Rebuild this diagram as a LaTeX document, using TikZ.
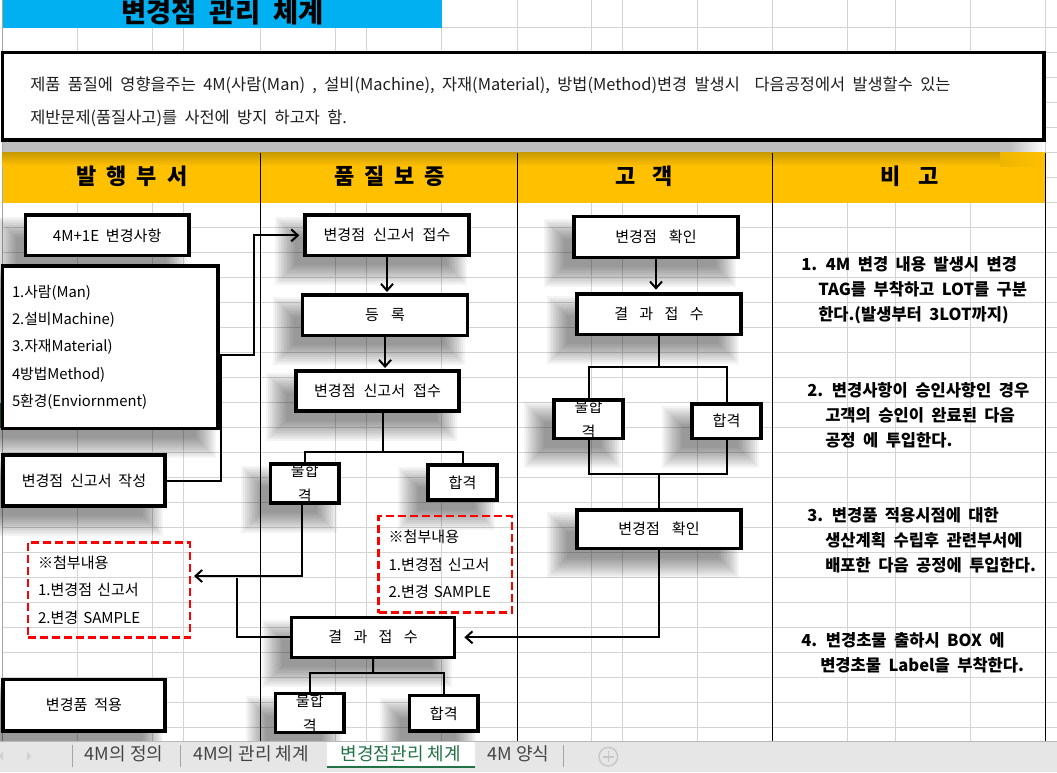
\documentclass[tikz,border=0pt]{standalone}
\usepackage{fontspec}
\setmainfont{Noto Sans CJK KR}
\usetikzlibrary{arrows.meta}
\pgfdeclarelayer{gridl}
\pgfdeclarelayer{shadl}
\pgfsetlayers{gridl,shadl,main}
\definecolor{titlecyan}{HTML}{00B0F0}
\definecolor{hdrgold}{HTML}{FFC000}
\definecolor{hdrdark}{HTML}{C99A00}
\definecolor{gridgray}{HTML}{D4D4D4}
\definecolor{tabgray}{HTML}{E6E6E6}
\definecolor{xlgreen}{HTML}{217346}
\definecolor{tabtext}{HTML}{444444}
\definecolor{dashred}{HTML}{FF0000}
\newcommand\szBox{\fontsize{11.3}{14}\selectfont\spaceskip=0.45em\relax}
\newcommand\szWrap{\fontsize{11.3}{18.75}\selectfont}
\newcommand\szRed{\fontsize{11.3}{20.6}\selectfont\spaceskip=0.45em\relax}
\newcommand\szNote{\bfseries\fontsize{12.4}{18.75}\selectfont\spaceskip=0.45em\relax}
\newcommand\szDesc{\fontsize{12.3}{25}\selectfont\spaceskip=0.45em\relax}
\newcommand\shadowof[1]{%
  \foreach \s in {-8,-6,...,12}{%
    \fill[black, opacity=0.045] ([shift={(-16-\s,16-\s)}]#1.north west) rectangle ([shift={(-16+\s,16+\s)}]#1.south east);}}
\begin{document}
\begin{tikzpicture}[x=0.75pt,y=-0.75pt,
  corners/.style n args={4}{minimum width={((#3)-(#1))*0.75pt}, minimum height={((#4)-(#2))*0.75pt},
     at={({((#1)+(#3))/2},{((#2)+(#4))/2})}},
  gridln/.style={draw=gridgray, line width=0.75pt},
  colln/.style={draw=black, line width=0.75pt},
  bxs/.style={draw=black, line width=2.5pt, fill=white, inner sep=0pt, align=center, font=\szBox},
  redbx/.style={draw=dashred, line width=2pt, dash pattern=on 6pt off 3pt, inner sep=0pt,
     align=left, font=\szRed},
  cn/.style={draw=black, line width=1.5pt},
  ar/.style={cn, -{Straight Barb[length=5pt,width=9pt]}},
  hdr/.style={font=\bfseries\fontsize{16.5}{18}\selectfont, inner sep=0pt},
  notes/.style={anchor=west, align=left, inner sep=0pt, font=\szNote},
  tabtx/.style={font=\fontsize{13.5}{15}\selectfont, text=tabtext, inner sep=0pt}
]
\useasboundingbox (0,0) rectangle (1057,772);
\begin{pgfonlayer}{gridl}
\fill[white] (0,0) rectangle (1057,772);
\foreach \gx in {77.8,152.8,183.6,260.6,335.7,366.8,441.8,517,591.2,622.7,697.4,772.4,847.7,895.7,970.7,1045.7}
  \draw[gridln] (\gx,0) -- (\gx,741.7);
\foreach \k in {1,...,29}{
  \pgfmathsetmacro\gy{2.7+25*\k}
  \draw[gridln] (2.7,\gy) -- (1057,\gy);}
\draw[draw=gray!70, line width=0.75pt] (2.7,0) -- (2.7,741.7);
\draw[xlgreen, line width=1.5pt] (0.8,402.7) -- (0.8,427.7);
\end{pgfonlayer}
% title bar
\fill[titlecyan] (2.7,0) rectangle (441.8,27.7);
\node[font=\bfseries\fontsize{20.5}{22}\selectfont, inner sep=0pt] (title) at (222.5,12) {변경점\hspace{10pt}관리\hspace{10pt}체계};
% text box shadow band
\fill[gray!50] (2.7,140) rectangle (1010,152.7);
\shade[left color=gray!50, right color=white] (1010,140) rectangle (1044,152.7);
% description box
\node[draw=black, line width=2.5pt, fill=white, inner sep=0pt, corners={2.7}{52.3}{1044}{140}] (descbox) {};
\node[anchor=west, align=left, inner sep=0pt, text=black!88, font=\szDesc] (desc) at (30,101.5)
  {제품 품질에 영향을주는 4M(사람(Man) , 설비(Machine), 자재(Material), 방법(Method)변경 발생시\ \ 다음공정에서 발생할수 있는\\ 제반문제(품질사고)를 사전에 방지 하고자 함.};
% header
\fill[hdrgold] (2.7,152.7) rectangle (1045.7,202.7);
\shade[top color=hdrdark, bottom color=hdrgold] (2.7,152.7) rectangle (1000,166);
\shade[left color=hdrgold!70!hdrdark, right color=hdrgold] (1000,152.7) rectangle (1045.7,166);
\foreach \cx in {260.6,517,772.4,1045.7}
  \draw[colln] (\cx,152.7) -- (\cx,741.7);
\node[hdr] (h1) at (131.8,176.7) {발\hspace{7.5pt}행\hspace{7.5pt}부\hspace{7.5pt}서};
\node[hdr] (h2) at (389.5,176.7) {품\hspace{7.5pt}질\hspace{7.5pt}보\hspace{7.5pt}증};
\node[hdr] (h3) at (644.3,176.7) {고\hspace{13pt}객};
\node[hdr] (h4) at (909.5,176.7) {비\hspace{13pt}고};
% column 1
\node[bxs, corners={25.4}{215}{189}{255.7}] (n4m) {4M+1E 변경사항};
\node[bxs, corners={2.7}{266}{218}{428.3}, align=left, text width=147.5pt, font=\fontsize{11.1}{20.4}\selectfont] (nlist)
  {1.사람(Man)\\2.설비Machine)\\3.자재Material)\\4방법Method)\\5환경(Enviornment)};
\node[bxs, corners={3}{455}{165}{506}] (nwrite) {변경점 신고서 작성};
\node[redbx, corners={28}{542.3}{190}{637.7}, text width=106.5pt] (nred1) {※첨부내용\\1.변경점 신고서\\2.변경 SAMPLE};
\node[bxs, corners={3}{679.3}{165}{731}] (napply) {변경품 적용};
% column 2
\node[bxs, corners={305}{215}{469}{255.7}] (nrcv1) {변경점\hspace{6pt}신고서\hspace{6pt}접수};
\node[bxs, corners={302.6}{295}{467.5}{335.3}] (nreg) {등\hspace{9pt}록};
\node[bxs, corners={296}{371}{459}{411}] (nrcv2) {변경점\hspace{6pt}신고서\hspace{6pt}접수};
\node[bxs, corners={270.5}{466}{339}{501}, font=\szWrap] (nfail1) {불합\\격};
\node[bxs, corners={428}{465}{497}{500}] (npass1) {합격};
\node[redbx, corners={378.6}{516}{512}{612.7}, text width=85pt] (nred2) {※첨부내용\\1.변경점 신고서\\2.변경 SAMPLE};
\node[bxs, corners={291.4}{617.3}{454.7}{657.3}] (nres2) {결\hspace{8.5pt}과\hspace{8.5pt}접\hspace{8.5pt}수};
\node[bxs, corners={275.5}{695}{344}{731}, font=\szWrap] (nfail2) {불합\\격};
\node[bxs, corners={409.7}{695.7}{478}{731}] (npass2) {합격};
% column 3
\node[bxs, corners={574}{216.7}{738}{257.7}] (nchk1) {변경점\hspace{9pt}확인};
\node[bxs, corners={577}{294}{741}{334.3}] (nres3) {결\hspace{8.5pt}과\hspace{8.5pt}접\hspace{8.5pt}수};
\node[bxs, corners={554}{401.7}{623}{436.7}, font=\szWrap] (nfail3) {불합\\격};
\node[bxs, corners={692}{404}{761}{438.3}] (npass3) {합격};
\node[bxs, corners={577}{510}{741}{548.3}] (nchk2) {변경점\hspace{9pt}확인};
% shadows
\begin{pgfonlayer}{shadl}
\foreach \n in {n4m,nlist,nwrite,napply,nrcv1,nreg,nrcv2,nfail1,npass1,nres2,nfail2,npass2,nchk1,nres3,nfail3,npass3,nchk2}{\shadowof{\n}}
\end{pgfonlayer}
% connectors
\coordinate (k1) at (221,355);
\coordinate (k2) at (253.5,355);
\draw[ar, shorten >=3pt] (nwrite.east) -| (k1) -- (k2) |- (nrcv1.west);
\draw[ar, shorten >=1pt] (nrcv1.south) -- (nrcv1.south |- nreg.north);
\draw[ar, shorten >=1pt] (nreg.south) -- (nreg.south |- nrcv2.north);
\coordinate (j1) at (383,451.7);
\draw[cn] (nrcv2.south -| j1) -- (j1);
\draw[cn] (nfail1.north) |- (j1) -| (npass1.north);
\coordinate (k3) at (302,576);
\draw[ar, shorten >=2pt] (nfail1.south -| k3) -- (k3) -- (k3 -| nred1.east);
\coordinate (k4) at (236.6,578.3);
\draw[cn] (nres2.west) -| (k4);
\draw[ar, shorten >=6pt] (nchk2.south) |- (nres2.east);
\coordinate (j2) at (373,672.7);
\draw[cn] (nres2.south) -- (j2);
\draw[cn] (nfail2.north) |- (j2) -| (npass2.north);
\draw[ar, shorten >=2pt] (nchk1.south) -- (nchk1.south |- nres3.north);
\coordinate (j3) at (659,367.3);
\draw[cn] (nres3.south) -- (j3);
\draw[cn] (nfail3.north) |- (j3) -| (npass3.north);
\coordinate (j4) at (659,474.3);
\draw[cn] (nfail3.south) |- (j4) -| (npass3.south);
\draw[cn] (nchk2.north) -- (j4);
% notes
\node[notes] (note1) at (801,290) {1. 4M 변경 내용 발생시 변경\\\hspace*{12.75pt}TAG를 부착하고 LOT를 구분\\\hspace*{12.75pt}한다.(발생부터 3LOT까지)};
\node[notes] (note2) at (807,414.8) {2. 변경사항이 승인사항인 경우\\\hspace*{13.5pt}고객의 승인이 완료된 다음\\\hspace*{13.5pt}공정 에 투입한다.};
\node[notes] (note3) at (807,540) {3. 변경품 적용시점에 대한\\\hspace*{13.5pt}생산계획 수립후 관련부서에\\\hspace*{13.5pt}배포한 다음 공정에 투입한다.};
\node[notes] (note4) at (801,652.8) {4. 변경초물 출하시 BOX 에\\\hspace*{14.25pt}변경초물 Label을 부착한다.};
% tab bar
\fill[tabgray] (0,741.7) rectangle (1057,772);
\draw[gray!55, line width=0.75pt] (0,741.7) -- (1057,741.7);
\fill[white] (326.7,741.7) rectangle (475,767);
\draw[xlgreen, line width=2pt] (326.7,767) -- (475,767);
\fill[gray!35] (27,751.5) -- (31.5,756) -- (27,760.5) -- cycle;
\fill[gray!35] (3,751.5) -- (-1.5,756) -- (3,760.5) -- cycle;
\foreach \sx in {72.7,180,563.3}
  \draw[gray!70, line width=0.75pt] (\sx,745) -- (\sx,767);
\node[tabtx] (tab1) at (124,754) {4M의 정의};
\node[tabtx] (tab2) at (251,754) {4M의 관리 체계};
\node[tabtx, text=xlgreen] (tab3) at (400.8,754) {변경점관리 체계};
\node[tabtx] (tab4) at (518.5,754) {4M 양식};
\node[circle, draw=gray!45, line width=1pt, minimum size=14pt, inner sep=0pt] (plus) at (608.3,756.7) {};
\draw[gray!45, line width=1.2pt] ([xshift=-4pt]plus.center) -- ([xshift=4pt]plus.center);
\draw[gray!45, line width=1.2pt] ([yshift=-4pt]plus.center) -- ([yshift=4pt]plus.center);
\end{tikzpicture}
\end{document}
